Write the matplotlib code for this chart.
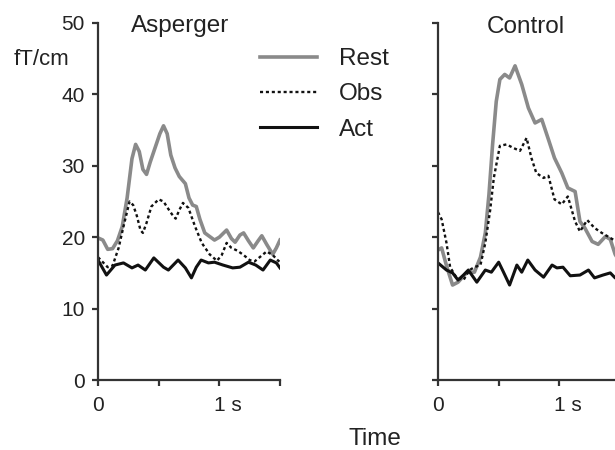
import matplotlib
matplotlib.use("Agg")
import matplotlib.pyplot as plt
from matplotlib.lines import Line2D
from matplotlib.transforms import ScaledTranslation

plt.rcParams['font.family'] = ['Liberation Sans', 'DejaVu Sans']

# ---------------- data ----------------
panel_titles = ["Asperger", "Control"]
series_labels = ["Rest", "Obs", "Act"]
y_ticks = [0, 10, 20, 30, 40, 50]
y_tick_labels = ["0", "10", "20", "30", "40", "50"]
x_ticks = [0, 0.5, 1.0, 1.5]
x_tick_labels = ["0", "", "1 s", ""]
y_unit = "fT/cm"
x_title = "Time"

asp_rest_t = [0.00, 0.04, 0.08, 0.12, 0.16, 0.20, 0.24, 0.28, 0.31, 0.34, 0.37, 0.40,
              0.43, 0.47, 0.51, 0.54, 0.57, 0.60, 0.635, 0.67, 0.72, 0.75, 0.78, 0.81,
              0.84, 0.88, 0.92, 0.96, 1.00, 1.06, 1.10, 1.13, 1.17, 1.20, 1.24, 1.28,
              1.32, 1.35, 1.39, 1.44, 1.47, 1.50]
asp_rest_v = [19.9, 19.6, 18.3, 18.4, 19.5, 21.5, 25.5, 31.0, 33.0, 32.0, 29.5, 28.8,
              30.5, 32.5, 34.5, 35.6, 34.5, 31.5, 29.7, 28.5, 27.5, 25.5, 24.5, 24.3,
              22.5, 20.6, 20.1, 19.6, 20.0, 21.0, 19.8, 19.3, 20.3, 20.6, 19.5, 18.5,
              19.5, 20.2, 19.0, 17.6, 18.5, 19.6]

asp_obs_t = [0.00, 0.04, 0.08, 0.12, 0.17, 0.21, 0.26, 0.29, 0.32, 0.35, 0.37, 0.40,
             0.44, 0.50, 0.54, 0.57, 0.61, 0.64, 0.67, 0.70, 0.745, 0.80, 0.855, 0.92,
             0.98, 1.02, 1.06, 1.10, 1.15, 1.20, 1.25, 1.29, 1.34, 1.39, 1.44, 1.48, 1.50]
asp_obs_v = [17.2, 16.5, 15.8, 16.0, 18.5, 21.5, 25.0, 24.5, 23.0, 21.0, 20.6, 22.0,
             24.3, 25.3, 25.0, 24.2, 23.2, 22.6, 23.8, 24.8, 24.1, 21.5, 19.2, 17.6,
             16.7, 17.5, 19.2, 18.5, 18.1, 17.5, 16.8, 16.6, 17.3, 18.0, 17.5, 16.8, 16.5]

asp_act_t = [0.00, 0.07, 0.14, 0.21, 0.28, 0.33, 0.39, 0.46, 0.54, 0.58, 0.66, 0.72,
             0.77, 0.81, 0.85, 0.91, 0.96, 1.03, 1.11, 1.17, 1.24, 1.30, 1.36, 1.42,
             1.47, 1.50]
asp_act_v = [16.8, 14.7, 16.1, 16.4, 15.7, 16.1, 15.4, 17.1, 15.8, 15.4, 16.8, 15.7,
             14.3, 15.8, 16.8, 16.4, 16.5, 16.1, 15.7, 15.8, 16.5, 16.1, 15.4, 16.8,
             16.4, 15.7]

con_rest_t = [0.00, 0.03, 0.07, 0.12, 0.165, 0.24, 0.30, 0.35, 0.39, 0.42, 0.45, 0.48,
              0.51, 0.55, 0.59, 0.635, 0.69, 0.745, 0.80, 0.855, 0.91, 0.96, 1.02, 1.07,
              1.13, 1.17, 1.21, 1.27, 1.32, 1.38, 1.42, 1.46, 1.50]
con_rest_v = [18.2, 18.5, 16.0, 13.3, 13.7, 15.1, 15.1, 17.2, 20.6, 26.0, 33.0, 39.0,
              42.1, 42.8, 42.3, 44.0, 41.4, 38.1, 36.0, 36.5, 33.7, 31.1, 29.0, 26.9,
              26.4, 22.2, 21.3, 19.4, 19.0, 20.1, 19.7, 17.6, 16.5]

con_obs_t = [0.00, 0.03, 0.07, 0.10, 0.15, 0.21, 0.26, 0.30, 0.35, 0.39, 0.43, 0.46,
             0.51, 0.566, 0.62, 0.676, 0.73, 0.77, 0.81, 0.87, 0.91, 0.96, 1.02, 1.07,
             1.13, 1.17, 1.23, 1.29, 1.35, 1.42, 1.46, 1.50]
con_obs_v = [23.5, 22.5, 19.2, 15.8, 14.4, 14.0, 15.4, 15.8, 16.1, 19.2, 23.8, 28.3,
             32.8, 33.0, 32.5, 32.1, 33.9, 31.1, 29.0, 28.3, 28.6, 25.3, 24.6, 25.7,
             22.2, 20.8, 22.4, 21.3, 20.6, 19.9, 19.5, 19.0]

con_act_t = [0.00, 0.07, 0.12, 0.165, 0.21, 0.25, 0.32, 0.39, 0.44, 0.50, 0.54, 0.59,
             0.65, 0.69, 0.74, 0.80, 0.87, 0.94, 0.98, 1.03, 1.09, 1.17, 1.24, 1.29,
             1.36, 1.42, 1.46, 1.50]
con_act_v = [16.4, 15.4, 15.0, 14.0, 14.7, 15.4, 13.7, 15.4, 15.1, 16.5, 15.1, 13.3,
             16.1, 15.1, 16.8, 15.4, 14.4, 16.1, 15.7, 15.8, 14.6, 14.7, 15.4, 14.3,
             14.7, 15.0, 14.3, 14.5]

# ---------------- styling ----------------
REST_COLOR = "#8a8a8a"
INK = "#111111"
SPINE = "#333333"
styles = {
    "Rest": dict(color=REST_COLOR, lw=2.6, ls="-", solid_joinstyle="round"),
    "Obs": dict(color=INK, lw=1.7, ls=(0, (1.3, 1.2))),
    "Act": dict(color=INK, lw=2.2, ls="-", solid_joinstyle="round"),
}

W, H = 615, 450
fig = plt.figure(figsize=(W / 100, H / 100), dpi=100)
ax1 = fig.add_axes([98 / W, 70 / H, 182 / W, 357 / H])
ax2 = fig.add_axes([438 / W, 70 / H, 182 / W, 357 / H])

panels = [
    (ax1, [(asp_rest_t, asp_rest_v), (asp_obs_t, asp_obs_v), (asp_act_t, asp_act_v)]),
    (ax2, [(con_rest_t, con_rest_v), (con_obs_t, con_obs_v), (con_act_t, con_act_v)]),
]

for ax, series in panels:
    for name, (t, v) in zip(series_labels, series):
        ax.plot(t, v, **styles[name])
    ax.set_xlim(0, 1.5)
    ax.set_ylim(0, 50)
    for s in ("top", "right"):
        ax.spines[s].set_visible(False)
    for s in ("left", "bottom"):
        ax.spines[s].set_color(SPINE)
        ax.spines[s].set_linewidth(1.6)
    ax.set_xticks(x_ticks)
    ax.set_xticklabels(x_tick_labels)
    ax.set_yticks(y_ticks)
    ax.tick_params(direction="out", length=4.5, width=1.6, color=SPINE,
                   labelsize=15, labelcolor="#222222")
    ax.tick_params(axis="x", pad=7)
    ax.tick_params(axis="y", pad=5)
    ax.patch.set_visible(False)

ax1.set_yticklabels(y_tick_labels)
ax2.set_yticklabels([""] * len(y_ticks))

# shift "1 s" so that the "1" sits on its tick
for ax in (ax1, ax2):
    lbl = ax.get_xticklabels()[2]
    lbl.set_transform(lbl.get_transform() + ScaledTranslation(9 / 100, 0, fig.dpi_scale_trans))

fig.text(180 / W, 1 - 32 / H, panel_titles[0], ha="center", va="baseline", fontsize=17.5, color="#222222")
fig.text(526 / W, 1 - 33 / H, panel_titles[1], ha="center", va="baseline", fontsize=17.5, color="#222222")
fig.text(42 / W, 1 - 59 / H, y_unit, ha="center", va="center", fontsize=16, color="#222222")
fig.text(375 / W, 1 - 439 / H, x_title, ha="center", va="center", fontsize=17.5, color="#222222")

handles = [Line2D([], [], **styles[n]) for n in series_labels]
leg = ax1.legend(handles, series_labels, loc="upper left",
                 bbox_to_anchor=(260 / W, 1 - 48 / H), bbox_transform=fig.transFigure,
                 frameon=False, borderpad=0, borderaxespad=0, handlelength=2.35,
                 handletextpad=0.9, labelspacing=0.55, fontsize=17.5)
for txt in leg.get_texts():
    txt.set_color("#222222")

fig.savefig("out.png", dpi=100)
